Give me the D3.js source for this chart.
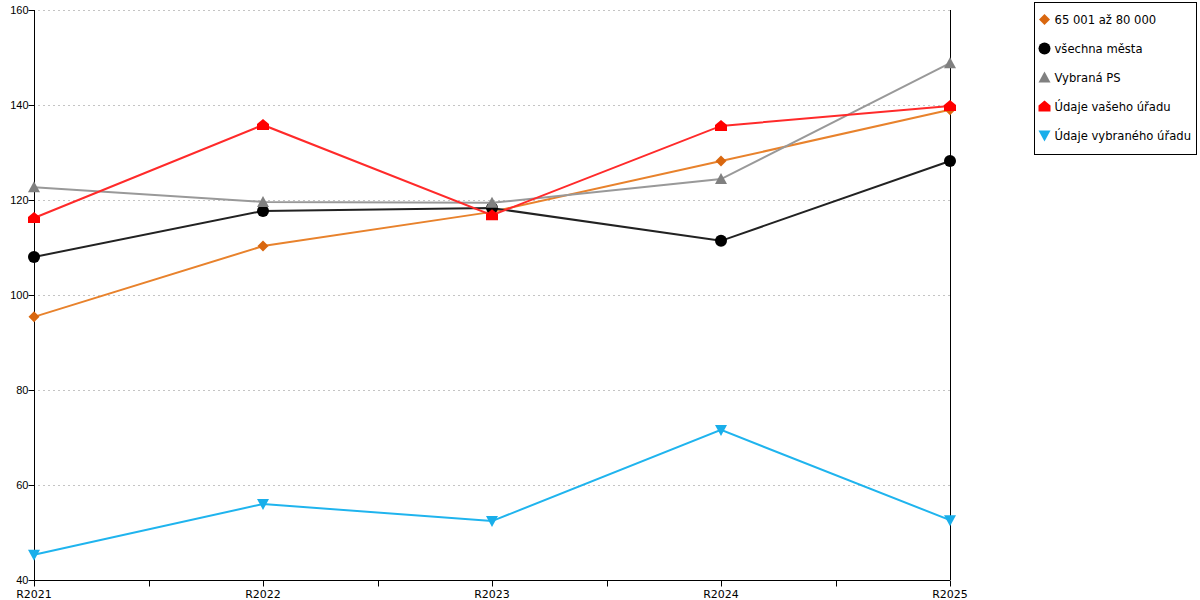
<!DOCTYPE html>
<html lang="cs">
<head>
<meta charset="utf-8" />
<title></title>
<script src="https://d3js.org/d3.v7.min.js"></script>
<style>
    body { margin: 0; background: #fff; }
    svg { font-family: "DejaVu Sans", Verdana, sans-serif; }
    .grid line { stroke: #c4c4c4; stroke-dasharray: 2,3; }
    .axis text { font-size: 11px; fill: #000; }
    .axis path, .axis line { stroke: #000; }
</style>
</head>
<body>
<svg width="1200" height="600"></svg>
<script>
    var categories = ["R2021", "R2022", "R2023", "R2024", "R2025"];
    var yTicks = [40, 60, 80, 100, 120, 140, 160];

    var rangeValues = [95.4, 110.3, 117.5, 128.2, 139.0];       // 65 001 až 80 000
    var allCities = [108.0, 117.7, 118.3, 111.4, 128.2];        // všechna města
    var selectedPS = [122.7, 119.6, 119.4, 124.4, 148.8];       // Vybraná PS
    var yourOffice = [116.2, 135.8, 116.8, 135.6, 139.8];       // Údaje vašeho úřadu
    var chosenOffice = [45.3, 56.0, 52.4, 71.6, 52.6];          // Údaje vybraného úřadu

    var seriesNames = ["65 001 až 80 000", "všechna města", "Vybraná PS", "Údaje vašeho úřadu", "Údaje vybraného úřadu"];

    var series = [
        { name: seriesNames[0], values: rangeValues, line: "#e8822c", fill: "#d9670f", shape: "diamond" },
        { name: seriesNames[1], values: allCities, line: "#222", fill: "#000", shape: "circle" },
        { name: seriesNames[2], values: selectedPS, line: "#999", fill: "#808080", shape: "triangle" },
        { name: seriesNames[3], values: yourOffice, line: "#ff2a2a", fill: "#ff0000", shape: "house" },
        { name: seriesNames[4], values: chosenOffice, line: "#1fb4ee", fill: "#19aeea", shape: "down" }
    ];

    var svg = d3.select("svg"),
        margin = { top: 10, left: 34 },
        plotW = 916,
        plotH = 570;

    var x = d3.scalePoint().domain(categories).range([0, plotW]);
    var y = d3.scaleLinear().domain([40, 160]).range([plotH, 0]);

    var g = svg.append("g")
        .attr("transform", "translate(" + margin.left + "," + margin.top + ")");

    // dashed grid
    g.append("g").attr("class", "grid")
        .selectAll("line")
        .data(yTicks.filter(function (d) { return d > 40; }))
        .enter().append("line")
        .attr("x1", 4).attr("x2", plotW)
        .attr("y1", function (d) { return y(d) + 0.5; })
        .attr("y2", function (d) { return y(d) + 0.5; });

    // y axis
    var yAxis = g.append("g").attr("class", "axis")
        .attr("transform", "translate(0.5,0)")
        .call(d3.axisLeft(y).tickValues(yTicks).tickSize(6).tickSizeOuter(0));
    yAxis.select(".domain").remove();
    yAxis.append("line").attr("y1", 0).attr("y2", plotH).attr("stroke", "#000");
    yAxis.selectAll(".tick text").attr("x", -6).attr("dy", "0.35em");

    // x axis: ticks at categories and in between
    var step = x.step();
    var xTickPos = [];
    categories.forEach(function (c, i) {
        xTickPos.push(x(c));
        if (i < categories.length - 1) xTickPos.push(x(c) + step / 2);
    });
    var xAxis = g.append("g").attr("class", "axis")
        .attr("transform", "translate(0," + (plotH + 0.5) + ")");
    xAxis.append("line").attr("x1", 0).attr("x2", plotW).attr("stroke", "#000");
    xAxis.selectAll(".t").data(xTickPos).enter().append("line")
        .attr("x1", function (d) { return Math.round(d) + 0.5; })
        .attr("x2", function (d) { return Math.round(d) + 0.5; })
        .attr("y1", 0).attr("y2", 6).attr("stroke", "#000");
    xAxis.selectAll("text").data(categories).enter().append("text")
        .attr("x", function (d) { return x(d); })
        .attr("y", 17)
        .attr("text-anchor", "middle")
        .text(function (d) { return d; });

    // right border line
    g.append("line")
        .attr("x1", plotW + 0.5).attr("x2", plotW + 0.5)
        .attr("y1", 0).attr("y2", plotH)
        .attr("stroke", "#000");

    function shapePath(shape) {
        switch (shape) {
            case "diamond": return "M0,-5.5L5.5,0L0,5.5L-5.5,0Z";
            case "circle": return "M6,0A6,6 0 1,1 -6,0A6,6 0 1,1 6,0Z";
            case "triangle": return "M0,-6L6,5L-6,5Z";
            case "house": return "M0,-6L6,-1L6,5L-6,5L-6,-1Z";
            case "down": return "M-6,-5L6,-5L0,6Z";
        }
    }

    var line = d3.line()
        .x(function (d, i) { return x(categories[i]); })
        .y(function (d) { return y(d); });

    series.forEach(function (s) {
        var sg = g.append("g");
        sg.append("path")
            .attr("d", line(s.values))
            .attr("fill", "none")
            .attr("stroke", s.line)
            .attr("stroke-width", 2);
        sg.selectAll("path.m").data(s.values).enter().append("path")
            .attr("class", "m")
            .attr("transform", function (d, i) { return "translate(" + x(categories[i]) + "," + y(d) + ")"; })
            .attr("d", shapePath(s.shape))
            .attr("fill", s.fill);
    });

    // legend
    var legend = svg.append("g").attr("transform", "translate(1034.5,2.5)");
    legend.append("rect")
        .attr("width", 162).attr("height", 152)
        .attr("fill", "#fff").attr("stroke", "#000");
    var items = legend.selectAll("g.item").data(series).enter().append("g")
        .attr("class", "item")
        .attr("transform", function (d, i) { return "translate(10," + (17 + i * 29) + ")"; });
    items.append("path")
        .attr("d", function (d) { return shapePath(d.shape); })
        .attr("fill", function (d) { return d.fill; });
    items.append("text")
        .attr("x", 10).attr("dy", "0.35em")
        .style("font-size", "11.6px")
        .text(function (d) { return d.name; });
</script>
</body>
</html>
